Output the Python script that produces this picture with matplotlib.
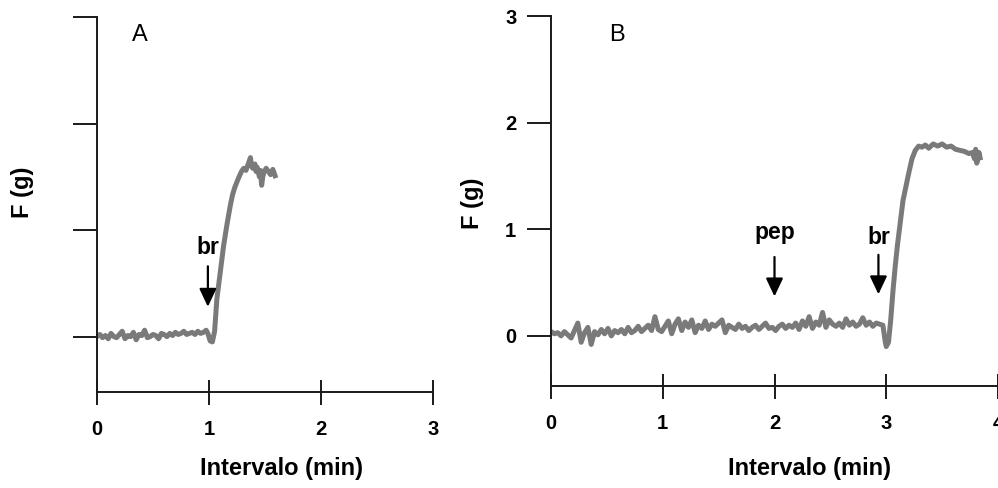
import matplotlib
matplotlib.use("Agg")
import matplotlib.pyplot as plt
import numpy as np

plt.rcParams["font.family"] = ["Liberation Sans", "DejaVu Sans"]

# sampling interval of the digitised baselines (min)
DT_A = 0.025
DT_B = 0.03

# panel A: baseline before bradykinin, then response
A_BASE = [0.00, 0.02, -0.01, 0.01, -0.02, 0.03, 0.00, -0.01, 0.02, 0.05,
          -0.02, 0.01, 0.00, 0.04, -0.03, 0.02, 0.01, 0.06, -0.01, 0.00,
          0.02, 0.01, -0.02, 0.03, 0.02, 0.00, 0.03, 0.01, 0.04, 0.02,
          0.03, 0.05, 0.02, 0.03, 0.04, 0.02, 0.05, 0.03, 0.04, 0.06]
A_RESP_T = [0.99, 1.01, 1.03, 1.05, 1.07, 1.10, 1.13, 1.16, 1.19, 1.21, 1.23,
            1.26, 1.29, 1.31, 1.33, 1.35, 1.37, 1.38, 1.39, 1.41, 1.42, 1.43,
            1.45, 1.46, 1.47, 1.48, 1.49, 1.51, 1.53, 1.55, 1.57, 1.59]
A_RESP_F = [0.03, -0.04, -0.05, 0.05, 0.35, 0.60, 0.85, 1.05, 1.23, 1.33, 1.40,
            1.48, 1.55, 1.58, 1.56, 1.62, 1.68, 1.60, 1.58, 1.62, 1.55, 1.59,
            1.50, 1.56, 1.42, 1.50, 1.54, 1.58, 1.55, 1.52, 1.57, 1.51]

# panel B: baseline (peptide added at 2 min), then bradykinin at 3 min
B_BASE = [0.04, 0.02, 0.03, 0.00, 0.04, 0.01, -0.02, 0.05, 0.12, -0.06, 0.03,
          0.08, -0.08, 0.04, 0.01, 0.06, 0.02, 0.07, 0.00, 0.05, 0.03,
          0.06, 0.02, 0.08, 0.03, 0.05, 0.09, 0.04, 0.07, 0.10, 0.05,
          0.18, 0.06, 0.04, 0.09, 0.14, 0.02, 0.11, 0.16, 0.05, 0.13,
          0.08, 0.15, 0.03, 0.10, 0.07, 0.14, 0.06, 0.11, 0.09, 0.12,
          0.15, 0.03, 0.10, 0.08, 0.06, 0.11, 0.07, 0.09, 0.05, 0.08,
          0.10, 0.06, 0.09, 0.12, 0.07, 0.08, 0.05, 0.09, 0.11, 0.07,
          0.10, 0.08, 0.12, 0.06, 0.14, 0.09, 0.18, 0.07, 0.13, 0.10,
          0.22, 0.08, 0.15, 0.11, 0.09, 0.12, 0.08, 0.16, 0.10, 0.13,
          0.09, 0.11, 0.17, 0.10, 0.13, 0.09, 0.12, 0.11]
B_RESP_T = [2.97, 2.99, 3.00, 3.02, 3.04, 3.06, 3.08, 3.10, 3.12, 3.15, 3.18,
            3.20, 3.23, 3.26, 3.29, 3.32, 3.35, 3.38, 3.42, 3.46, 3.50, 3.54,
            3.58, 3.62, 3.66, 3.70, 3.74, 3.77, 3.79, 3.80, 3.81, 3.82, 3.83,
            3.84]
B_RESP_F = [0.10, -0.05, -0.10, -0.06, 0.15, 0.42, 0.65, 0.85, 1.02, 1.27, 1.42,
            1.52, 1.66, 1.74, 1.78, 1.77, 1.79, 1.76, 1.80, 1.78, 1.80, 1.77,
            1.78, 1.75, 1.74, 1.73, 1.71, 1.72, 1.66, 1.75, 1.62, 1.66, 1.72,
            1.67]

# (label, x, text y, shaft top, tip)
A_MARKS = [("br", 0.99, 0.84, 0.66, 0.28)]
B_MARKS = [("pep", 2.0, 0.97, 0.74, 0.37), ("br", 2.93, 0.92, 0.76, 0.39)]

TRACE = "#7a7a7a"
INK = "#1a1a1a"


def trace(base, dt, resp_t, resp_f):
    t = np.concatenate([np.arange(len(base)) * dt, resp_t])
    f = np.concatenate([base, resp_f])
    return t, f


def style_axes(ax, xmax, ymin):
    for s in ("top", "right"):
        ax.spines[s].set_visible(False)
    for s in ("left", "bottom"):
        ax.spines[s].set_color(INK)
        ax.spines[s].set_linewidth(1.4)
    ax.set_xlim(0, xmax)
    ax.set_ylim(ymin, 3.0)
    ax.set_xticks(range(xmax + 1))
    ax.set_yticks([0, 1, 2, 3])
    ax.tick_params(axis="x", direction="inout", length=18, width=1.4,
                   color=INK, pad=11, labelsize=14.5)
    ax.tick_params(axis="y", direction="out", length=17, width=1.4,
                   color=INK, pad=8, labelsize=14.5)
    for lab in ax.get_xticklabels() + ax.get_yticklabels():
        lab.set_fontweight("bold")


def arrows(ax, marks):
    for label, x, ty, top, tip in marks:
        ax.annotate("", xy=(x, tip), xytext=(x, top),
                    arrowprops=dict(arrowstyle="-|>,head_length=0.55,head_width=0.26",
                                    mutation_scale=20, lw=1.6, color="black",
                                    shrinkA=0, shrinkB=0))
        ax.text(x, ty, label, ha="center", va="center", fontsize=16.5,
                fontweight="bold")


fig = plt.figure(figsize=(9.98, 4.88), dpi=100)
W, H = 998, 488

ax_a = fig.add_axes([97 / W, (H - 392) / H, (433 - 97) / W, (392 - 17) / H])
ax_b = fig.add_axes([551 / W, (H - 386) / H, (998 - 551) / W, (386 - 16) / H])

ta, fa = trace(A_BASE, DT_A, A_RESP_T, A_RESP_F)
tb, fb = trace(B_BASE, DT_B, B_RESP_T, B_RESP_F)
ax_a.plot(ta, fa, color=TRACE, lw=3.6, solid_joinstyle="round")
ax_b.plot(tb, fb, color=TRACE, lw=3.6, solid_joinstyle="round")

style_axes(ax_a, 3, -0.52)
style_axes(ax_b, 4, -0.47)
ax_a.set_yticklabels([])

arrows(ax_a, A_MARKS)
arrows(ax_b, B_MARKS)

fig.text(140 / W, 1 - 35 / H, "A", fontsize=17, ha="center", va="center")
fig.text(617 / W, 1 - 35 / H, "B", fontsize=17, ha="center", va="center")

fig.text(282 / W, 1 - 469 / H, "Intervalo (min)", fontsize=17,
         fontweight="bold", ha="center", va="center")
fig.text(809 / W, 1 - 469 / H, "Intervalo (min)", fontsize=17,
         fontweight="bold", ha="center", va="center")
fig.text(22 / W, 1 - 192 / H, "F (g)", fontsize=17, fontweight="bold",
         rotation=90, ha="center", va="center")
fig.text(473 / W, 1 - 203 / H, "F (g)", fontsize=17, fontweight="bold",
         rotation=90, ha="center", va="center")

fig.savefig("out.png", dpi=100, facecolor="white")
